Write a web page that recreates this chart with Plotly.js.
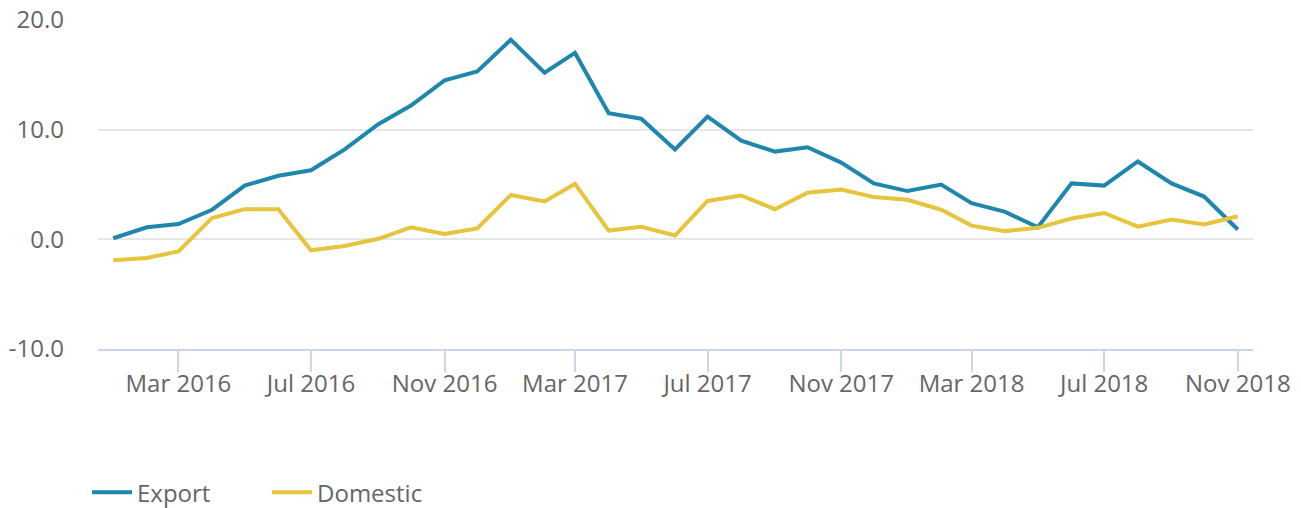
<!DOCTYPE html>
<html>
<head>
<meta charset="utf-8">
<script src="https://cdn.plot.ly/plotly-3.0.1.min.js"></script>
<style>
  html, body { margin: 0; padding: 0; background: #ffffff; }
  #chart { width: 1301px; height: 508px; }
</style>
</head>
<body>
<div id="chart"></div>
<script>
const months = [
  "2016-01-01","2016-02-01","2016-03-01","2016-04-01","2016-05-01","2016-06-01",
  "2016-07-01","2016-08-01","2016-09-01","2016-10-01","2016-11-01","2016-12-01",
  "2017-01-01","2017-02-01","2017-03-01","2017-04-01","2017-05-01","2017-06-01",
  "2017-07-01","2017-08-01","2017-09-01","2017-10-01","2017-11-01","2017-12-01",
  "2018-01-01","2018-02-01","2018-03-01","2018-04-01","2018-05-01","2018-06-01",
  "2018-07-01","2018-08-01","2018-09-01","2018-10-01","2018-11-01"
];
const exportValues = [
  0.1, 1.1, 1.4, 2.7, 4.9, 5.8, 6.3, 8.2, 10.5, 12.2, 14.5, 15.3,
  18.2, 15.2, 17.0, 11.5, 11.0, 8.2, 11.2, 9.0, 8.0, 8.4, 7.0, 5.1,
  4.4, 5.0, 3.3, 2.5, 1.1, 5.1, 4.9, 7.1, 5.1, 3.9, 0.9
];
const domesticValues = [
  -1.9, -1.7, -1.1, 1.95, 2.75, 2.75, -1.0, -0.6, 0.05, 1.1, 0.5, 1.0,
  4.05, 3.45, 5.05, 0.8, 1.15, 0.35, 3.5, 4.0, 2.75, 4.25, 4.55, 3.85,
  3.6, 2.7, 1.25, 0.75, 1.05, 1.9, 2.4, 1.15, 1.8, 1.35, 2.1
];
const seriesNames = ["Export", "Domestic"];
const yTickVals = [-10, 0, 10, 20];
const yTickLabels = ["-10.0", "0.0", "10.0", "20.0"];

const traces = [
  {
    x: months, y: exportValues, name: seriesNames[0], type: "scatter", mode: "lines",
    line: { color: "#1f87ad", width: 4 }
  },
  {
    x: months, y: domesticValues, name: seriesNames[1], type: "scatter", mode: "lines",
    line: { color: "#e6c43c", width: 4 }
  }
];

const layout = {
  width: 1301, height: 508,
  margin: { l: 98, r: 48, t: 20, b: 159 },
  paper_bgcolor: "#ffffff", plot_bgcolor: "#ffffff",
  font: { family: "Open Sans, sans-serif", size: 24, color: "#666666" },
  xaxis: {
    type: "date",
    range: ["2015-12-18", "2018-11-15"],
    tick0: "2016-03-01", dtick: "M4", tickformat: "%b %Y",
    ticks: "outside", ticklen: 21, tickwidth: 2, tickcolor: "#ccd6eb",
    ticklabelstandoff: -9,
    showline: true, linecolor: "#ccd6eb", linewidth: 2,
    showgrid: false, zeroline: false,
    tickfont: { size: 24, color: "#666666" }
  },
  yaxis: {
    range: [-10, 20], tickvals: yTickVals, ticktext: yTickLabels,
    showgrid: true, gridcolor: "#e6e6e6", gridwidth: 2,
    zeroline: false, showline: false, ticks: "",
    ticklabelstandoff: 33,
    tickfont: { size: 24, color: "#666666" }
  },
  showlegend: true,
  legend: {
    orientation: "h", xref: "container", yref: "container",
    x: 0.0669, y: 0.03, xanchor: "left", yanchor: "middle",
    font: { size: 24, color: "#666666" },
    itemwidth: 40, tracegroupgap: 0, entrywidth: 125
  },
  hovermode: false
};

Plotly.newPlot("chart", traces, layout, { displayModeBar: false, staticPlot: true });
</script>
</body>
</html>
